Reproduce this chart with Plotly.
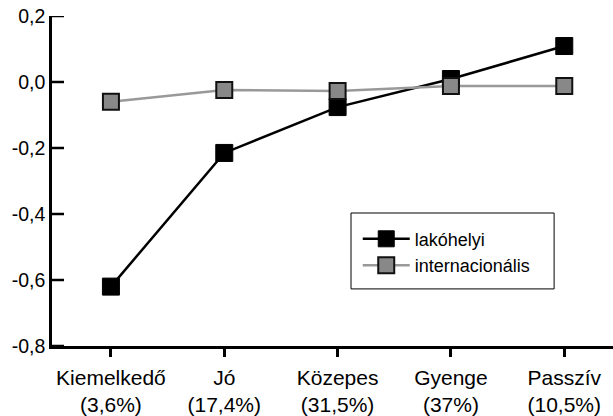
import plotly.graph_objects as go

categories = ["Kiemelkedő<br>(3,6%)", "Jó<br>(17,4%)", "Közepes<br>(31,5%)", "Gyenge<br>(37%)", "Passzív<br>(10,5%)"]
lakohelyi = [-0.62, -0.215, -0.076, 0.009, 0.109]
internacionalis = [-0.06, -0.024, -0.027, -0.012, -0.012]
y_tickvals = [0.2, 0.0, -0.2, -0.4, -0.6, -0.8]
y_ticktext = ["0,2", "0,0", "-0,2", "-0,4", "-0,6", "-0,8"]

xpos = list(range(len(categories)))

fig = go.Figure()
fig.add_trace(go.Scatter(
    x=xpos, y=lakohelyi, name="lakóhelyi", mode="lines+markers",
    line=dict(color="black", width=2.5),
    marker=dict(symbol="square", size=17, color="black", line=dict(color="black", width=1)),
))
fig.add_trace(go.Scatter(
    x=xpos, y=internacionalis, name="internacionális", mode="lines+markers",
    line=dict(color="#999999", width=2.5),
    marker=dict(symbol="square", size=16, color="#888888", line=dict(color="#111111", width=2)),
))

# inward y-axis tick marks, one per tick value
plot_w = 613 - 52
tick_shapes = [dict(
    type="line", xref="paper", yref="y",
    x0=0, x1=12 / plot_w, y0=v, y1=v,
    line=dict(color="black", width=2.5),
) for v in y_tickvals]

legend_box = dict(
    type="rect", xref="paper", yref="paper",
    x0=0.533, x1=0.895, y0=0.173, y1=0.403,
    line=dict(color="black", width=1), fillcolor="white", layer="below",
)

font = "Liberation Sans, Arial, sans-serif"
fig.update_layout(
    width=613, height=416,
    margin=dict(l=52, r=0, t=16, b=70),
    paper_bgcolor="white", plot_bgcolor="white",
    font=dict(family=font, size=21, color="black"),
    showlegend=True,
    legend=dict(
        x=0.545, y=0.38, xanchor="left", yanchor="top",
        borderwidth=0, bgcolor="rgba(0,0,0,0)",
        font=dict(size=18), tracegroupgap=0, itemwidth=47,
    ),
    shapes=[legend_box] + tick_shapes,
    xaxis=dict(
        range=[-0.52, 4.43], tickvals=xpos, ticktext=categories,
        showgrid=False, zeroline=False,
        showline=True, linecolor="black", linewidth=2.5,
        ticks="outside", ticklen=8, tickwidth=2.5, tickcolor="black",
        tickfont=dict(size=21), ticklabelstandoff=3,
    ),
    yaxis=dict(
        range=[-0.8, 0.2], tickvals=y_tickvals, ticktext=y_ticktext,
        showgrid=False, zeroline=False,
        showline=True, linecolor="black", linewidth=2.5,
        ticks="", tickfont=dict(size=19.5),
    ),
)
fig.write_html("out.html", config={"displayModeBar": False},
               post_script="document.body.style.margin='0px';")
